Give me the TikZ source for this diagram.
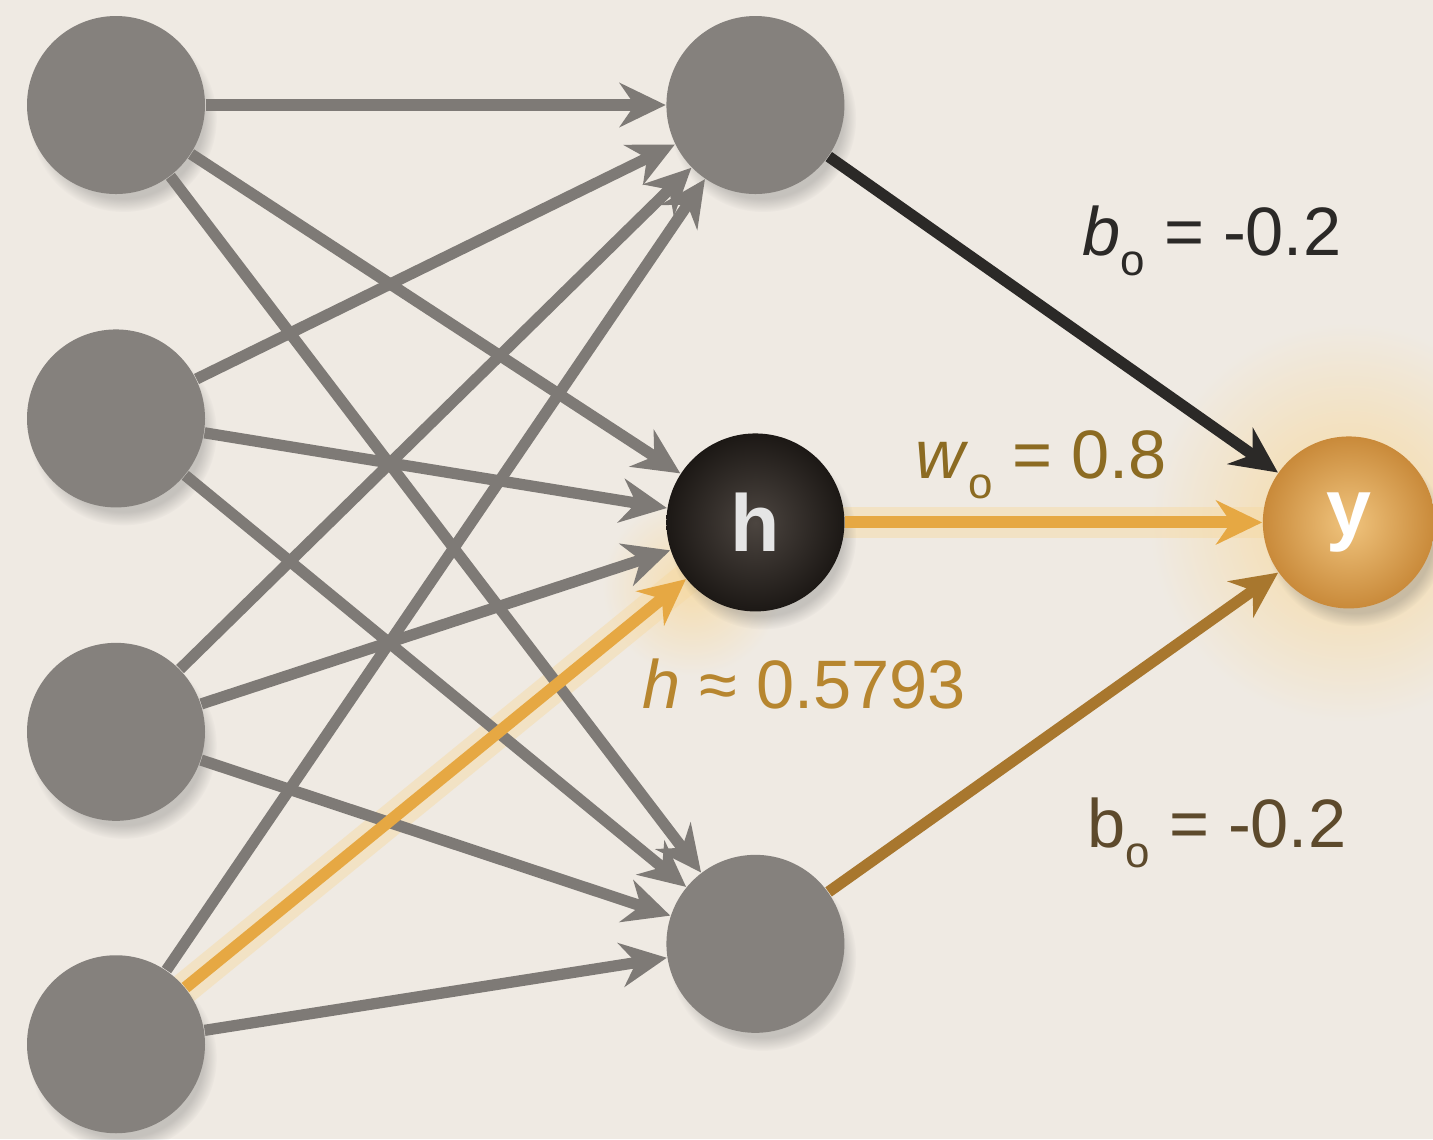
\documentclass[tikz,border=0pt]{standalone}
\usepackage{fontspec}
\setmainfont{Liberation Sans}
\usetikzlibrary{positioning,arrows.meta,shadows,backgrounds}
\definecolor{paper}{HTML}{EFEAE3}
\definecolor{unitgray}{HTML}{85817D}
\definecolor{edgegray}{HTML}{7E7A76}
\definecolor{amber}{HTML}{E6A843}
\definecolor{amberdark}{HTML}{A8772E}
\definecolor{ink}{HTML}{2B2927}
\definecolor{gold}{HTML}{8C6B22}
\definecolor{goldlight}{HTML}{B7862F}
\definecolor{bronze}{HTML}{5D4A2C}
\definecolor{hcore}{HTML}{4C4540}
\definecolor{hrim}{HTML}{1C1815}
\definecolor{ycore}{HTML}{F0C47E}
\definecolor{yrim}{HTML}{C98A3A}
\definecolor{halo}{HTML}{F7D9A0}
\newcommand\lowo{\raisebox{-0.3em}{\fontsize{12.5}{12.5}\selectfont o}}

\begin{document}
\begin{tikzpicture}[node distance=13.4mm,
unit/.style={circle,fill=unitgray,minimum size=17.8mm,inner sep=0pt,circular drop shadow={opacity=.3,fill=black!60,shadow xshift=.7mm,shadow yshift=-1.3mm,shadow scale=1.05}},
lit/.style={unit,fill=none,text=white!90!black,font=\bfseries\fontsize{23}{23}\selectfont},
arr/.style={-{Stealth[length=4.6mm,width=4.4mm]},line width=3.2pt,draw=edgegray},
hot/.style={-{Stealth[length=4.6mm,width=4.4mm]},line width=3.4pt,draw=amber},
glow/.style={line width=9pt,draw=halo,opacity=.45,line cap=round},
lbl/.style={font=\fontsize{19.5}{20}\selectfont,anchor=base west}]
\useasboundingbox (0,0) rectangle (14.33,-11.39);
\node[unit] (in1) at (1.16,-1.05) {};
\node[unit,below=of in1] (in2) {};
\node[unit,below=of in2] (in3) {};
\node[unit,below=13.3mm of in3] (in4) {};
\node[unit,right=46mm of in1] (hid1) {};
\node[lit,below=23.8mm of hid1,inner color=hcore,outer color=hrim] (h) {h};
\node[unit,below=24.2mm of h] (hid3) {};
\node[lit,right=41.7mm of h,minimum size=17.2mm,inner color=ycore,outer color=yrim,text=white] (y) {y};
\begin{scope}[on background layer]
\fill[paper] (0,0) rectangle (14.33,-11.39);
\shade[inner color=halo,outer color=paper] (y.center) circle (2.0);
\shade[inner color=halo!80!paper,outer color=paper] (h.south west) circle (0.9);
\draw[glow] (in4) -- (h);
\draw[glow] (h) -- (y);
\end{scope}
\foreach \s in {in1,in2,in3,in4} {\draw[arr] (\s) -- (hid1); \draw[arr] (\s) -- (hid3);}
\foreach \s in {in1,in2,in3} \draw[arr] (\s) -- (h);
\draw[hot] (in4) -- (h);
\draw[arr,draw=ink] (hid1) -- (y);
\draw[hot] (h) -- (y);
\draw[arr,draw=amberdark] (hid3) -- (y);
\node[lbl,text=ink] (btop) at (10.70,-2.55) {\textit{b}\lowo{} = -0.2};
\node[lbl,text=gold] (wlbl) at (9.03,-4.78) {\textit{w}\lowo{} = 0.8};
\node[lbl,text=goldlight] (hlbl) at (6.30,-7.08) {\textit{h} ≈ 0.5793};
\node[lbl,text=bronze] (bbot) at (10.75,-8.47) {b\lowo{} = -0.2};
\end{tikzpicture}
\end{document}
